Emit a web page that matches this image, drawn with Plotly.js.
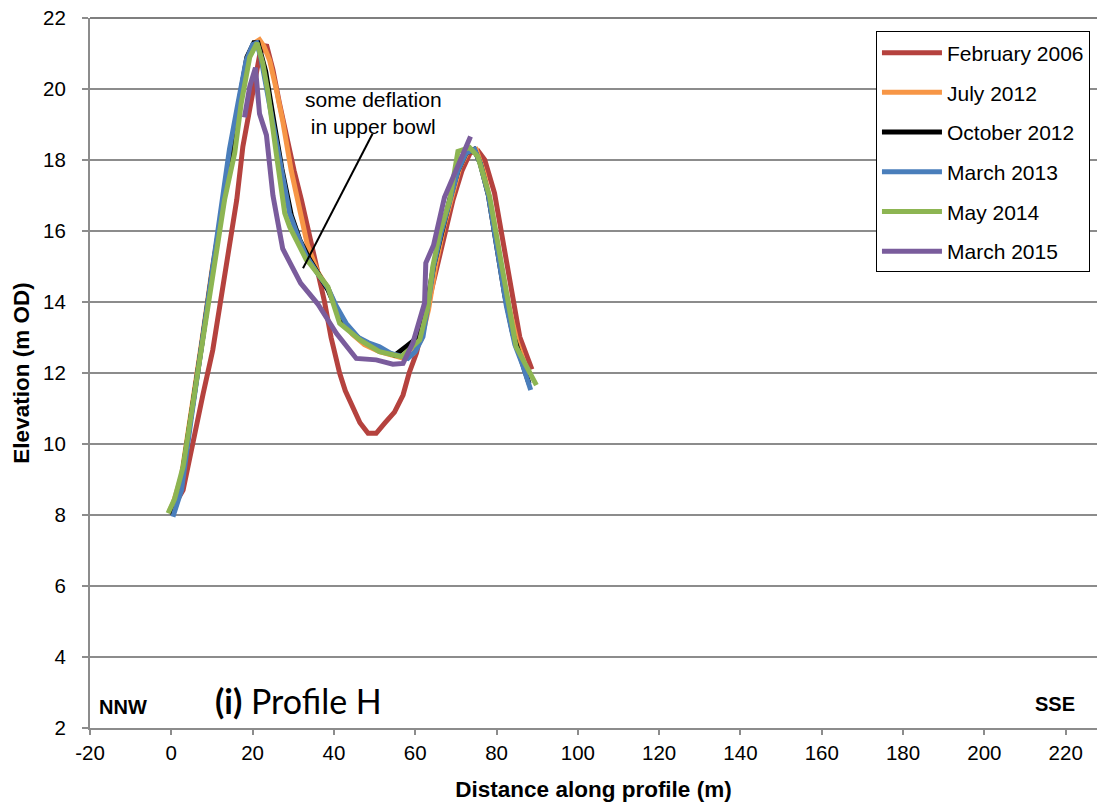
<!DOCTYPE html>
<html>
<head>
<meta charset="utf-8">
<script src="https://cdn.plot.ly/plotly-3.0.1.min.js"></script>
<style>
  html, body { margin: 0; padding: 0; background: #ffffff; }
  #chart { width: 1097px; height: 805px; }
</style>
</head>
<body>
<div id="chart"></div>
<script>
// Beach profile H survey lines: distance along profile (m) vs elevation (m OD)
const seriesNames = ["February 2006", "July 2012", "October 2012", "March 2013", "May 2014", "March 2015"];
const seriesColors = ["#B5423E", "#F79646", "#000000", "#4A7EBB", "#8DB552", "#7A5C9C"];

const feb2006X = [-0.4, 0.6, 2.9, 5.3, 7.8, 10.2, 13.2, 16.1, 17.6, 19.4, 20.9, 21.8, 23.4, 25.0, 26.6, 28.3, 30.2, 32.0, 33.4, 34.8, 36.3, 37.7, 39.3, 41.4, 42.8, 44.3, 46.4, 48.4, 50.4, 52.6, 54.9, 57.0, 58.5, 60.3, 62.5, 65.2, 67.3, 69.3, 71.5, 73.5, 75.5, 77.1, 79.5, 81.5, 83.5, 85.7, 88.7];
const feb2006Y = [8.1, 8.25, 8.7, 10.1, 11.4, 12.65, 14.8, 16.88, 18.38, 19.5, 20.3, 21.0, 21.25, 20.54, 19.6, 18.66, 17.7, 16.88, 16.2, 15.47, 14.7, 14.0, 13.0, 12.0, 11.5, 11.15, 10.6, 10.3, 10.3, 10.6, 10.9, 11.38, 12.0, 12.56, 13.6, 14.9, 15.9, 16.88, 17.7, 18.2, 18.25, 18.0, 17.07, 15.8, 14.45, 13.02, 12.1];

const jul2012X = [-0.5, 0.5, 2.5, 5.0, 7.5, 10.0, 12.6, 14.8, 16.8, 18.8, 20.5, 21.7, 22.8, 24.2, 25.8, 27.4, 29.5, 32.0, 33.5, 36.0, 38.5, 41.5, 44.5, 47.5, 51.2, 54.5, 57.0, 59.5, 61.5, 63.3, 65.0, 67.0, 69.0, 71.0, 73.0, 75.0, 77.0, 79.0, 81.0, 83.0, 85.0, 88.0];
const jul2012Y = [8.1, 8.35, 9.1, 10.9, 12.9, 14.9, 16.7, 18.1, 19.5, 20.8, 21.3, 21.39, 21.2, 20.8, 20.0, 19.1, 17.7, 16.3, 15.6, 14.85, 14.4, 13.6, 13.1, 12.8, 12.6, 12.5, 12.42, 12.55, 12.95, 13.8, 15.0, 16.1, 17.0, 17.8, 18.25, 18.3, 17.6, 16.5, 15.1, 13.9, 12.9, 11.9];

const oct2012X = [0.2, 1.0, 2.5, 5.0, 7.5, 10.0, 12.5, 14.5, 16.6, 18.6, 20.3, 21.3, 22.3, 23.2, 25.2, 27.2, 29.5, 31.6, 34.0, 36.5, 38.5, 41.0, 43.5, 46.5, 49.5, 52.5, 55.0, 57.8, 59.5, 61.5, 63.0, 64.5, 66.5, 68.5, 70.5, 72.5, 74.5, 76.0, 78.0, 80.0, 82.0, 84.0, 86.0, 88.0];
const oct2012Y = [8.0, 8.3, 9.0, 10.8, 12.8, 14.8, 16.7, 18.1, 19.6, 20.9, 21.3, 21.3, 20.9, 20.5, 19.1, 17.75, 16.45, 15.75, 15.2, 14.7, 14.35, 13.7, 13.25, 12.95, 12.75, 12.6, 12.5, 12.75, 12.9, 13.2, 14.0, 15.0, 16.0, 16.9, 17.7, 18.2, 18.3, 17.9, 17.0, 15.6, 14.2, 13.1, 12.4, 11.7];

const mar2013X = [0.4, 1.0, 2.5, 5.0, 7.5, 10.0, 12.3, 14.3, 16.4, 18.4, 20.0, 21.0, 22.0, 22.9, 25.0, 27.0, 29.1, 31.0, 33.2, 36.0, 38.5, 40.5, 43.0, 46.0, 48.5, 51.2, 54.0, 57.0, 58.2, 60.0, 61.9, 63.0, 64.5, 66.5, 68.5, 70.5, 72.5, 74.6, 76.0, 78.0, 80.0, 82.4, 84.5, 86.5, 88.4];
const mar2013Y = [7.95, 8.2, 8.7, 10.8, 12.85, 14.95, 16.88, 18.3, 19.6, 20.8, 21.25, 21.3, 20.9, 20.35, 19.0, 17.72, 16.5, 15.9, 15.3, 14.8, 14.4, 13.9, 13.4, 13.0, 12.85, 12.74, 12.55, 12.46, 12.41, 12.6, 13.02, 13.8, 15.0, 16.0, 16.9, 17.7, 18.2, 18.3, 17.9, 17.0, 15.6, 13.9, 12.8, 12.2, 11.52];

const may2014X = [-0.8, 0.8, 2.9, 5.3, 7.8, 10.2, 13.1, 15.6, 17.2, 19.3, 21.1, 22.5, 23.8, 25.8, 27.9, 29.1, 33.2, 34.0, 38.5, 41.4, 46.4, 51.2, 56.6, 61.1, 63.1, 64.3, 66.0, 68.5, 70.5, 73.4, 75.4, 78.3, 80.5, 82.5, 84.8, 89.8];
const may2014Y = [8.05, 8.45, 9.36, 11.15, 12.95, 14.7, 16.88, 18.2, 19.6, 20.9, 21.3, 20.73, 19.89, 18.2, 16.5, 16.12, 15.19, 15.09, 14.43, 13.4, 12.93, 12.6, 12.46, 12.93, 13.87, 14.99, 15.94, 16.88, 18.24, 18.35, 18.1, 16.97, 15.5, 14.2, 12.74, 11.66];

const mar2015X = [18.0, 19.3, 20.7, 21.7, 23.4, 25.0, 27.4, 31.8, 36.0, 40.6, 45.5, 50.4, 54.5, 57.0, 59.4, 62.3, 62.6, 64.5, 67.2, 69.7, 73.6];
const mar2015Y = [19.2, 20.07, 20.6, 19.3, 18.7, 17.0, 15.5, 14.53, 13.95, 13.12, 12.41, 12.37, 12.25, 12.27, 12.84, 13.97, 15.1, 15.6, 16.95, 17.63, 18.66];

const xTickVals = [-20, 0, 20, 40, 60, 80, 100, 120, 140, 160, 180, 200, 220];
const xTickText = ["-20", "0", "20", "40", "60", "80", "100", "120", "140", "160", "180", "200", "220"];
const yTickVals = [2, 4, 6, 8, 10, 12, 14, 16, 18, 20, 22];

const xSeries = [feb2006X, jul2012X, oct2012X, mar2013X, may2014X, mar2015X];
const ySeries = [feb2006Y, jul2012Y, oct2012Y, mar2013Y, may2014Y, mar2015Y];

const traces = seriesNames.map((name, i) => ({
  type: "scatter",
  mode: "lines",
  name: name,
  legendgroup: "g" + i,
  x: xSeries[i],
  y: ySeries[i],
  line: { color: seriesColors[i], width: 5 },
  hoverinfo: "x+y+name"
}));

const arial = "'Liberation Sans', Arial, sans-serif";
const calibriLike = "Lato, Carlito, Calibri, sans-serif";

const layout = {
  width: 1097,
  height: 805,
  margin: { l: 90, r: 0, t: 18, b: 77, pad: 0 },
  paper_bgcolor: "#ffffff",
  plot_bgcolor: "#ffffff",
  showlegend: true,
  legend: {
    x: 0.7805, y: 0.981, xanchor: "left", yanchor: "top",
    bgcolor: "#ffffff", bordercolor: "#000000", borderwidth: 1,
    font: { family: arial, size: 21, color: "#000000" },
    tracegroupgap: 9.4,
    itemwidth: 60,
    traceorder: "grouped"
  },
  xaxis: {
    range: [-20, 227.7],
    tickvals: xTickVals,
    ticktext: xTickText,
    ticks: "outside", ticklen: 5, tickwidth: 2, tickcolor: "#8c8c8c",
    showline: true, linecolor: "#8c8c8c", linewidth: 2,
    showgrid: false, zeroline: false,
    tickfont: { family: arial, size: 20.5, color: "#000000" },
    title: { text: "<b>Distance along profile (m)</b>", font: { family: arial, size: 22.5, color: "#000000" }, standoff: 19 },
    automargin: false
  },
  yaxis: {
    range: [2, 22],
    tickvals: yTickVals,
    ticks: "outside", ticklen: 6, tickwidth: 2, tickcolor: "#8c8c8c",
    showline: true, linecolor: "#8c8c8c", linewidth: 2,
    showgrid: true, gridcolor: "#8c8c8c", gridwidth: 1.5,
    zeroline: false,
    tickfont: { family: arial, size: 20.5, color: "#000000" },
    ticklabelstandoff: 12,
    title: { text: "<b>Elevation (m OD)</b>", font: { family: arial, size: 22.5, color: "#000000" }, standoff: 7 },
    automargin: false
  },
  shapes: [
    // dark upper edge of the plot area
    { type: "line", xref: "paper", yref: "paper", x0: 0, x1: 1, y0: 1, y1: 1,
      line: { color: "#000000", width: 1.2 } },
    // pointer for the bowl note
    { type: "line", xref: "x", yref: "y", x0: 32.4, y0: 14.95, x1: 49.5, y1: 18.74,
      line: { color: "#000000", width: 2 } }
  ],
  annotations: [
    { xref: "x", yref: "y", x: 49.7, y: 19.33, text: "some deflation<br>in upper bowl",
      showarrow: false, xanchor: "center", yanchor: "middle",
      font: { family: arial, size: 21, color: "#000000" } },
    { xref: "paper", yref: "paper", x: 0.2066, y: 0.0394, text: "<b>(i)</b> Profile H",
      showarrow: false, xanchor: "center", yanchor: "middle",
      font: { family: calibriLike, size: 34, color: "#000000" } },
    { xref: "paper", yref: "paper", x: 0.0328, y: 0.0296, text: "<b>NNW</b>",
      showarrow: false, xanchor: "center", yanchor: "middle",
      font: { family: arial, size: 20, color: "#000000" } },
    { xref: "paper", yref: "paper", x: 0.958, y: 0.0338, text: "<b>SSE</b>",
      showarrow: false, xanchor: "center", yanchor: "middle",
      font: { family: arial, size: 20, color: "#000000" } }
  ]
};

Plotly.newPlot("chart", traces, layout, { displayModeBar: false, staticPlot: true });
</script>
</body>
</html>
